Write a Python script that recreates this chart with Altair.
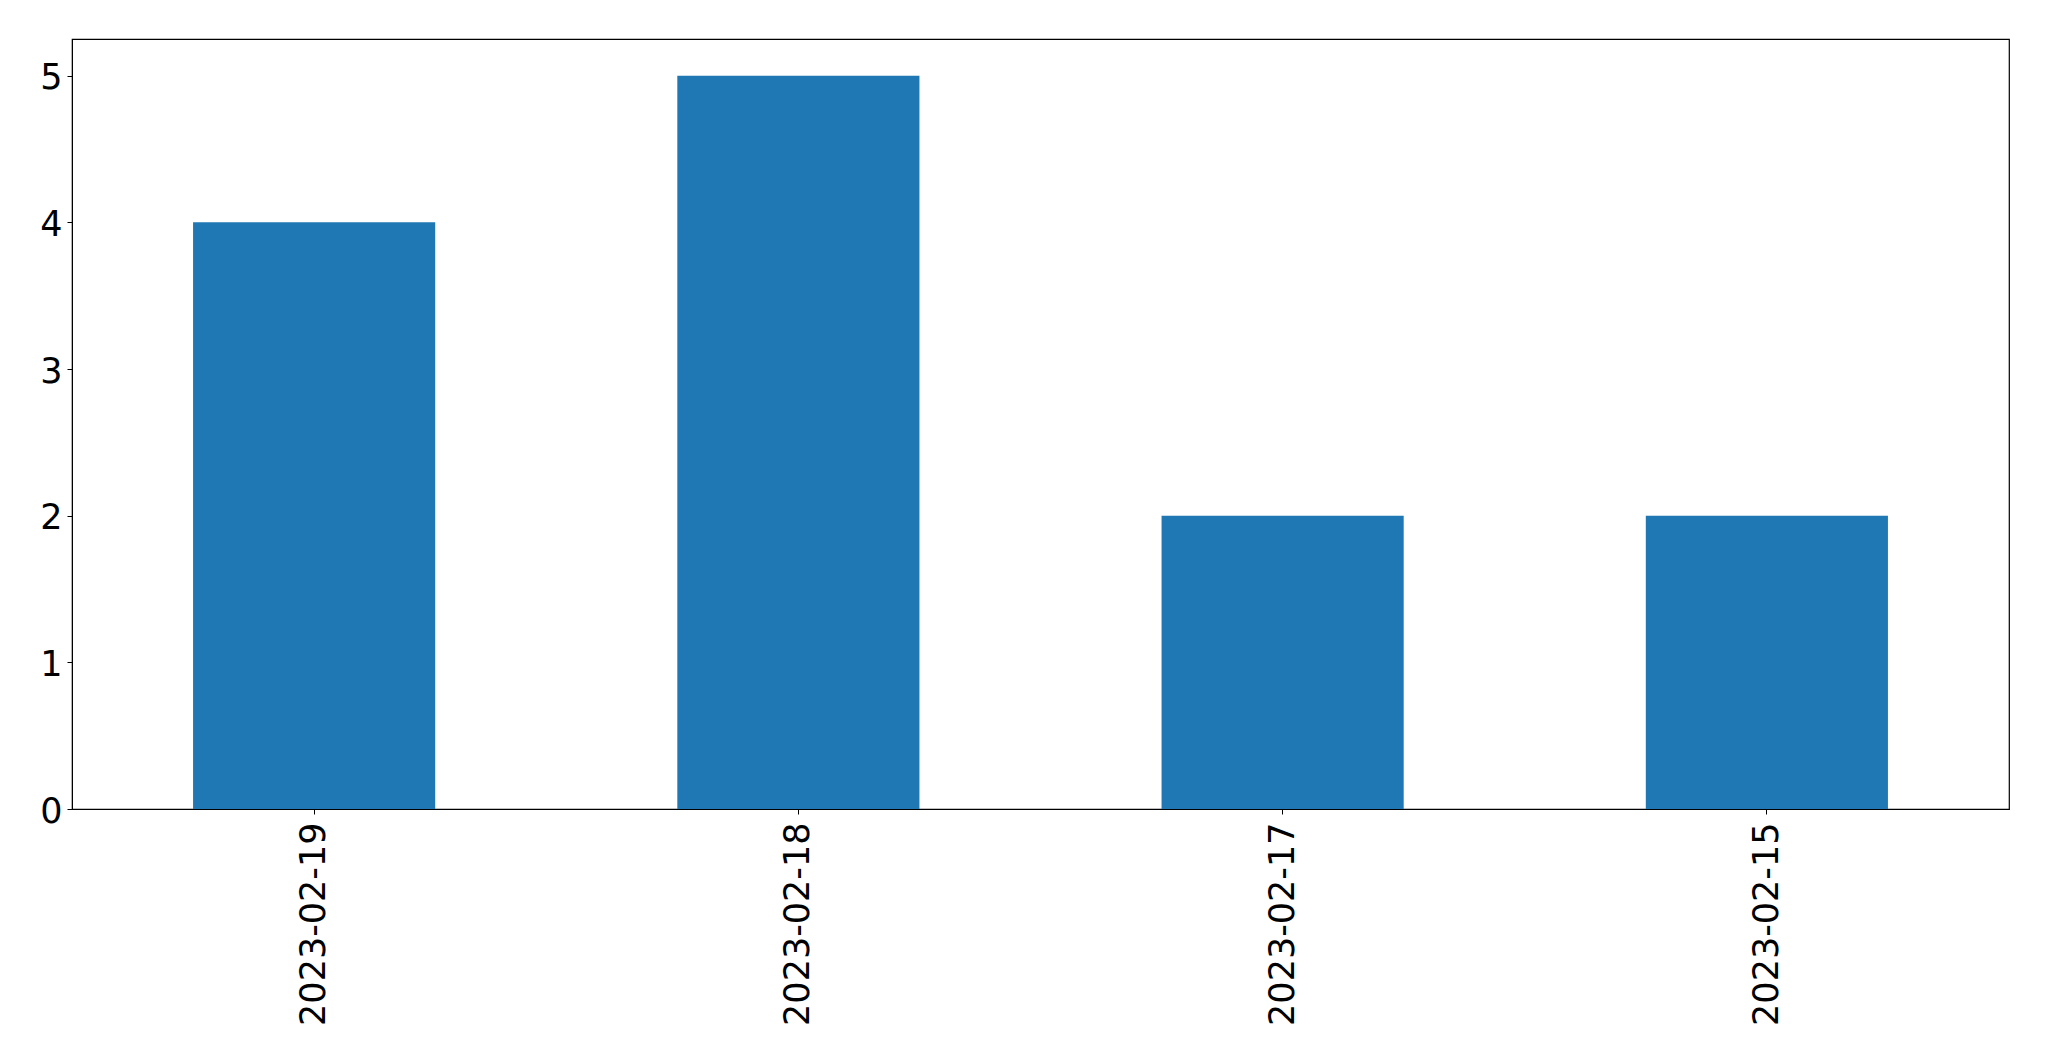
import altair as alt
import pandas as pd

dates = ["2023-02-19", "2023-02-18", "2023-02-17", "2023-02-15"]
counts = [4, 5, 2, 2]

df = pd.DataFrame({"date": dates, "count": counts})

chart = alt.Chart(df).mark_bar(color="#1f77b4").encode(
    x=alt.X("date:N", sort=None, title=None,
            scale=alt.Scale(paddingInner=0.5, paddingOuter=0.25),
            axis=alt.Axis(labelAngle=270, labelAlign="right", labelBaseline="middle",
                          labelFontSize=35, labelFont="DejaVu Sans", labelColor="black",
                          labelLimit=0,
                          tickSize=5, tickColor="black", tickWidth=1, labelPadding=8,
                          domainColor="black", domainWidth=1, grid=False)),
    y=alt.Y("count:Q", title=None,
            scale=alt.Scale(domain=[0, 5.25], nice=False, zero=True),
            axis=alt.Axis(values=[0, 1, 2, 3, 4, 5], format="d",
                          labelFontSize=35, labelFont="DejaVu Sans", labelColor="black",
                          labelOffset=2,
                          tickSize=5, tickColor="black", tickWidth=1, labelPadding=5,
                          domainColor="black", domainWidth=1, grid=False)),
).properties(
    width=1937, height=770,
    autosize=alt.AutoSizeParams(type="none"),
    padding={"left": 64, "top": 31, "right": 30, "bottom": 230},
).configure_view(stroke="black", strokeWidth=1.2)

chart.save("out.html", embed_options={"renderer": "svg", "actions": False})
